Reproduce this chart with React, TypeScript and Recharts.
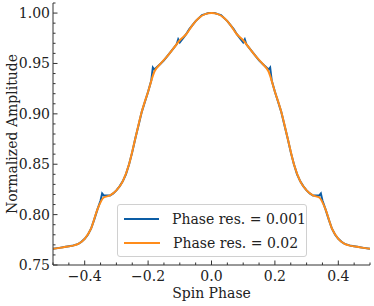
import React from 'react';
import { LineChart, Line, XAxis, YAxis } from 'recharts';

// phase res. = 0.02 series
const coarsePhase = [
  -0.5, -0.48, -0.46, -0.44, -0.42, -0.4, -0.38, -0.36, -0.34, -0.32, -0.3, -0.28, -0.26,
  -0.24, -0.22, -0.2, -0.18, -0.16, -0.14, -0.12, -0.1, -0.08, -0.06, -0.04, -0.02, 0,
  0.02, 0.04, 0.06, 0.08, 0.1, 0.12, 0.14, 0.16, 0.18, 0.2, 0.22, 0.24, 0.26, 0.28, 0.3,
  0.32, 0.34, 0.36, 0.38, 0.4, 0.42, 0.44, 0.46, 0.48, 0.5,
];
const coarseAmp = [
  0.766, 0.767, 0.768, 0.769, 0.771, 0.776, 0.786, 0.805, 0.817, 0.819, 0.824, 0.833, 0.85,
  0.876, 0.902, 0.922, 0.942, 0.95, 0.957, 0.965, 0.973, 0.979, 0.988, 0.995, 0.999, 1.0,
  0.999, 0.995, 0.988, 0.979, 0.973, 0.965, 0.957, 0.95, 0.942, 0.922, 0.902, 0.876, 0.85,
  0.833, 0.824, 0.819, 0.817, 0.805, 0.786, 0.776, 0.771, 0.769, 0.768, 0.767, 0.766,
];

// phase res. = 0.001 series (sampled where it matters)
const finePhase = [
  -0.5, -0.48, -0.46, -0.44, -0.42, -0.41, -0.4, -0.39, -0.38, -0.37, -0.36, -0.35, -0.345,
  -0.34, -0.33, -0.32, -0.31, -0.3, -0.29, -0.28, -0.27, -0.26, -0.25, -0.24, -0.23, -0.22,
  -0.21, -0.2, -0.19, -0.185, -0.18, -0.17, -0.16, -0.15, -0.14, -0.13, -0.12, -0.11, -0.105,
  -0.1, -0.09, -0.08, -0.07, -0.06, -0.05, -0.04, -0.03, -0.02, -0.01, 0,
  0.01, 0.02, 0.03, 0.04, 0.05, 0.06, 0.07, 0.08, 0.09, 0.1, 0.105, 0.11, 0.12, 0.13, 0.14,
  0.15, 0.16, 0.17, 0.18, 0.185, 0.19, 0.2, 0.21, 0.22, 0.23, 0.24, 0.25, 0.26, 0.27, 0.28,
  0.29, 0.3, 0.31, 0.32, 0.33, 0.34, 0.345, 0.35, 0.36, 0.37, 0.38, 0.39, 0.4, 0.41, 0.42,
  0.44, 0.46, 0.48, 0.5,
];
const fineAmp = [
  0.766, 0.767, 0.768, 0.769, 0.771, 0.773, 0.776, 0.78, 0.786, 0.795, 0.805, 0.814, 0.821,
  0.819, 0.819, 0.819, 0.821, 0.824, 0.828, 0.833, 0.84, 0.85, 0.862, 0.876, 0.889, 0.902,
  0.912, 0.922, 0.933, 0.946, 0.944, 0.947, 0.95, 0.953, 0.957, 0.961, 0.965, 0.969, 0.974,
  0.971, 0.975, 0.979, 0.984, 0.988, 0.992, 0.995, 0.998, 0.999, 1.0, 1.0,
  1.0, 0.999, 0.998, 0.995, 0.992, 0.988, 0.984, 0.979, 0.975, 0.971, 0.974, 0.969, 0.965,
  0.961, 0.957, 0.953, 0.95, 0.947, 0.944, 0.946, 0.933, 0.922, 0.912, 0.902, 0.889, 0.876,
  0.862, 0.85, 0.84, 0.833, 0.828, 0.824, 0.821, 0.819, 0.819, 0.819, 0.821, 0.814, 0.805,
  0.795, 0.786, 0.78, 0.776, 0.773, 0.771, 0.769, 0.768, 0.767, 0.766,
];

const xTicks = [
  -0.5, -0.45, -0.4, -0.35, -0.3, -0.25, -0.2, -0.15, -0.1, -0.05, 0,
  0.05, 0.1, 0.15, 0.2, 0.25, 0.3, 0.35, 0.4, 0.45, 0.5,
];
const yTicks = [
  0.75, 0.76, 0.77, 0.78, 0.79, 0.8, 0.81, 0.82, 0.83, 0.84, 0.85, 0.86, 0.87, 0.88,
  0.89, 0.9, 0.91, 0.92, 0.93, 0.94, 0.95, 0.96, 0.97, 0.98, 0.99, 1.0, 1.01,
];

const seriesNames = ['Phase res. = 0.001', 'Phase res. = 0.02'];
const seriesColors = ['#0C5DA5', '#FF8C1A'];

const coarseData = coarsePhase.map((p, i) => ({ phase: p, amp: coarseAmp[i] }));
const fineData = finePhase.map((p, i) => ({ phase: p, amp: fineAmp[i] }));

const FONT = "'DejaVu Serif', 'Liberation Serif', serif";
const AXIS = '#333';
const txt = { fontFamily: FONT, fontSize: 14, fill: '#222' };
const isMajorX = (v: number) => Math.abs(v * 5 - Math.round(v * 5)) < 1e-6;
const isMajorY = (v: number) => Math.abs(v * 20 - Math.round(v * 20)) < 1e-6 && v < 1.005;
const fmtX = (v: number) => (v < 0 ? '\u2212' : '') + Math.abs(v).toFixed(1);

const BottomTick = (props: any) => {
  const { x, y, payload } = props;
  const major = isMajorX(payload.value);
  return (
    <g>
      <line x1={x} x2={x} y1={y} y2={y - (major ? 4.5 : 2.5)} stroke={AXIS} />
      {major && (
        <text x={x} y={y + 16} textAnchor="middle" style={txt}>
          {fmtX(payload.value)}
        </text>
      )}
    </g>
  );
};

const TopTick = (props: any) => {
  const { x, y, payload } = props;
  const major = isMajorX(payload.value);
  return <line x1={x} x2={x} y1={y} y2={y + (major ? 4.5 : 2.5)} stroke={AXIS} />;
};

const LeftTick = (props: any) => {
  const { x, y, payload } = props;
  const major = isMajorY(payload.value);
  return (
    <g>
      <line x1={x} x2={x + (major ? 4.5 : 2.5)} y1={y} y2={y} stroke={AXIS} />
      {major && (
        <text x={x - 3} y={y + 5} textAnchor="end" style={txt}>
          {payload.value.toFixed(2)}
        </text>
      )}
    </g>
  );
};

const RightTick = (props: any) => {
  const { x, y, payload } = props;
  const major = isMajorY(payload.value);
  return <line x1={x} x2={x - (major ? 4.5 : 2.5)} y1={y} y2={y} stroke={AXIS} />;
};

const LegendBox = () => (
  <div
    style={{
      position: 'absolute',
      left: 117,
      top: 204,
      width: 190,
      height: 53,
      boxSizing: 'border-box',
      border: '1px solid #d0d0d0',
      borderRadius: 3,
      background: 'rgba(255,255,255,0.85)',
      fontFamily: FONT,
      fontSize: 14,
      color: '#222',
      paddingTop: 2,
    }}
  >
    {seriesNames.map((name, i) => (
      <div key={name} style={{ display: 'flex', alignItems: 'center', height: 24 }}>
        <div style={{ width: 36, height: 2, marginLeft: 6, background: seriesColors[i] }} />
        <span style={{ marginLeft: 13, whiteSpace: 'nowrap' }}>{name}</span>
      </div>
    ))}
  </div>
);

export default function App() {
  return (
    <div style={{ position: 'fixed', left: 0, top: 0, width: 374, height: 306, background: '#fff' }}>
      <LineChart width={374} height={306} margin={{ top: 3, right: 4, bottom: 0, left: 0 }}>
        <XAxis
          xAxisId="bottom"
          dataKey="phase"
          type="number"
          domain={[-0.5, 0.5]}
          ticks={xTicks}
          interval={0}
          height={41}
          tickSize={0}
          tickMargin={0}
          tickLine={false}
          axisLine={{ stroke: AXIS }}
          tick={<BottomTick />}
          allowDataOverflow
          label={{
            content: ({ viewBox }: any) => (
              <text x={viewBox.x + viewBox.width / 2} y={viewBox.y + 33} textAnchor="middle" style={txt}>
                Spin Phase
              </text>
            ),
          }}
        />
        <XAxis
          xAxisId="top"
          orientation="top"
          dataKey="phase"
          type="number"
          domain={[-0.5, 0.5]}
          ticks={xTicks}
          interval={0}
          height={0}
          tickSize={0}
          tickMargin={0}
          tickLine={false}
          axisLine={{ stroke: AXIS }}
          tick={<TopTick />}
          allowDataOverflow
        />
        <YAxis
          yAxisId="left"
          type="number"
          domain={[0.75, 1.01]}
          ticks={yTicks}
          interval={0}
          width={53}
          tickSize={0}
          tickMargin={0}
          tickLine={false}
          axisLine={{ stroke: AXIS }}
          tick={<LeftTick />}
          allowDataOverflow
          label={{
            content: ({ viewBox }: any) => {
              const cx = viewBox.x + 12;
              const cy = viewBox.y + viewBox.height / 2;
              return (
                <text
                  x={cx}
                  y={cy}
                  transform={`rotate(-90 ${cx} ${cy})`}
                  textAnchor="middle"
                  dominantBaseline="central"
                  style={txt}
                >
                  Normalized Amplitude
                </text>
              );
            },
          }}
        />
        <YAxis
          yAxisId="right"
          orientation="right"
          type="number"
          domain={[0.75, 1.01]}
          ticks={yTicks}
          interval={0}
          width={0}
          tickSize={0}
          tickMargin={0}
          tickLine={false}
          axisLine={{ stroke: AXIS }}
          tick={<RightTick />}
          allowDataOverflow
        />
        <Line
          xAxisId="bottom"
          yAxisId="left"
          data={fineData}
          dataKey="amp"
          name={seriesNames[0]}
          type="linear"
          stroke={seriesColors[0]}
          strokeWidth={2}
          dot={false}
          isAnimationActive={false}
        />
        <Line
          xAxisId="bottom"
          yAxisId="left"
          data={coarseData}
          dataKey="amp"
          name={seriesNames[1]}
          type="monotone"
          stroke={seriesColors[1]}
          strokeWidth={2}
          dot={false}
          isAnimationActive={false}
        />
      </LineChart>
      <LegendBox />
    </div>
  );
}
